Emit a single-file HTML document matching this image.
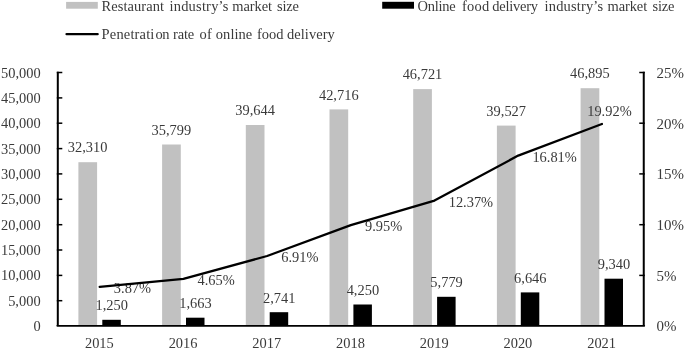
<!DOCTYPE html>
<html><head><meta charset="utf-8"><title>Chart</title>
<style>
html,body{margin:0;padding:0;background:#fff;}
svg{display:block;filter:grayscale(1) blur(0.4px)}
text{font-family:"Liberation Serif","Times New Roman",serif;font-size:14.0px;fill:#3a3a3a;}
</style></head><body>
<svg width="685" height="350" viewBox="0 0 685 350">
<rect width="685" height="350" fill="#fff"/>
<rect x="78.4" y="162.2" width="18.7" height="163.9" fill="#c1c1c1"/>
<rect x="102.3" y="319.8" width="18.5" height="6.3" fill="#000"/>
<rect x="162.1" y="144.5" width="18.7" height="181.6" fill="#c1c1c1"/>
<rect x="186.0" y="317.7" width="18.5" height="8.4" fill="#000"/>
<rect x="245.8" y="125.0" width="18.7" height="201.1" fill="#c1c1c1"/>
<rect x="269.7" y="312.2" width="18.5" height="13.9" fill="#000"/>
<rect x="329.5" y="109.4" width="18.7" height="216.7" fill="#c1c1c1"/>
<rect x="353.4" y="304.5" width="18.5" height="21.6" fill="#000"/>
<rect x="413.2" y="89.1" width="18.7" height="237.0" fill="#c1c1c1"/>
<rect x="437.1" y="296.8" width="18.5" height="29.3" fill="#000"/>
<rect x="496.9" y="125.6" width="18.7" height="200.5" fill="#c1c1c1"/>
<rect x="520.8" y="292.4" width="18.5" height="33.7" fill="#000"/>
<rect x="580.6" y="88.2" width="18.7" height="237.9" fill="#c1c1c1"/>
<rect x="604.5" y="278.7" width="18.5" height="47.4" fill="#000"/>
<text transform="translate(87.65 152.32) scale(1.0300 1)" text-anchor="middle">32,310</text>
<text transform="translate(111.75 310.16) scale(1.0300 1)" text-anchor="middle">1,250</text>
<text transform="translate(171.36 134.63) scale(1.0300 1)" text-anchor="middle">35,799</text>
<text transform="translate(195.46 308.07) scale(1.0300 1)" text-anchor="middle">1,663</text>
<text transform="translate(255.07 115.13) scale(1.0300 1)" text-anchor="middle">39,644</text>
<text transform="translate(279.17 302.60) scale(1.0300 1)" text-anchor="middle">2,741</text>
<text transform="translate(338.78 99.54) scale(1.0300 1)" text-anchor="middle">42,716</text>
<text transform="translate(362.88 294.94) scale(1.0300 1)" text-anchor="middle">4,250</text>
<text transform="translate(422.48 79.23) scale(1.0300 1)" text-anchor="middle">46,721</text>
<text transform="translate(446.58 287.19) scale(1.0300 1)" text-anchor="middle">5,779</text>
<text transform="translate(506.19 115.72) scale(1.0300 1)" text-anchor="middle">39,527</text>
<text transform="translate(530.29 282.79) scale(1.0300 1)" text-anchor="middle">6,646</text>
<text transform="translate(589.90 78.35) scale(1.0300 1)" text-anchor="middle">46,895</text>
<text transform="translate(614.00 269.13) scale(1.0300 1)" text-anchor="middle">9,340</text>
<text transform="translate(113.85 292.84) scale(1.0300 1)">3.87%</text>
<text transform="translate(197.56 284.93) scale(1.0300 1)">4.65%</text>
<text transform="translate(281.27 262.00) scale(1.0300 1)">6.91%</text>
<text transform="translate(364.98 231.17) scale(1.0300 1)">9.95%</text>
<text transform="translate(448.68 206.62) scale(1.0300 1)">12.37%</text>
<text transform="translate(532.39 161.58) scale(1.0300 1)">16.81%</text>
<text transform="translate(587.20 115.73) scale(1.0300 1)">19.92%</text>
<polyline fill="none" stroke="#000" stroke-width="2.3" stroke-linejoin="round" stroke-linecap="round" points="99.7,286.8 183.4,278.9 267.1,256.0 350.8,225.2 434.5,200.6 518.2,155.6 601.9,124.0"/>
<path d="M57.3 325.8 H644.25" fill="none" stroke="#000" stroke-width="1.8" stroke-linecap="round"/>
<path d="M57.8 71.75 V326.0 M643.75 71.75 V326.0" fill="none" stroke="#000" stroke-width="2"/>
<text transform="translate(40.60 331.20) scale(1.0300 1)" text-anchor="end">0</text>
<line x1="56.8" x2="62.3" y1="300.7" y2="300.7" stroke="#000" stroke-width="1.5"/>
<text transform="translate(40.60 305.84) scale(1.0300 1)" text-anchor="end">5,000</text>
<line x1="56.8" x2="62.3" y1="275.4" y2="275.4" stroke="#000" stroke-width="1.5"/>
<text transform="translate(40.60 280.48) scale(1.0300 1)" text-anchor="end">10,000</text>
<line x1="56.8" x2="62.3" y1="250.0" y2="250.0" stroke="#000" stroke-width="1.5"/>
<text transform="translate(40.60 255.12) scale(1.0300 1)" text-anchor="end">15,000</text>
<line x1="56.8" x2="62.3" y1="224.7" y2="224.7" stroke="#000" stroke-width="1.5"/>
<text transform="translate(40.60 229.76) scale(1.0300 1)" text-anchor="end">20,000</text>
<line x1="56.8" x2="62.3" y1="199.3" y2="199.3" stroke="#000" stroke-width="1.5"/>
<text transform="translate(40.60 204.40) scale(1.0300 1)" text-anchor="end">25,000</text>
<line x1="56.8" x2="62.3" y1="173.9" y2="173.9" stroke="#000" stroke-width="1.5"/>
<text transform="translate(40.60 179.04) scale(1.0300 1)" text-anchor="end">30,000</text>
<line x1="56.8" x2="62.3" y1="148.6" y2="148.6" stroke="#000" stroke-width="1.5"/>
<text transform="translate(40.60 153.68) scale(1.0300 1)" text-anchor="end">35,000</text>
<line x1="56.8" x2="62.3" y1="123.2" y2="123.2" stroke="#000" stroke-width="1.5"/>
<text transform="translate(40.60 128.32) scale(1.0300 1)" text-anchor="end">40,000</text>
<line x1="56.8" x2="62.3" y1="97.9" y2="97.9" stroke="#000" stroke-width="1.5"/>
<text transform="translate(40.60 102.96) scale(1.0300 1)" text-anchor="end">45,000</text>
<line x1="56.8" x2="62.3" y1="72.5" y2="72.5" stroke="#000" stroke-width="1.5"/>
<text transform="translate(40.60 77.60) scale(1.0300 1)" text-anchor="end">50,000</text>
<text transform="translate(656.60 331.40) scale(1.0700 1)">0%</text>
<line x1="644.75" x2="639.25" y1="275.4" y2="275.4" stroke="#000" stroke-width="1.5"/>
<text transform="translate(656.60 280.68) scale(1.0700 1)">5%</text>
<line x1="644.75" x2="639.25" y1="224.7" y2="224.7" stroke="#000" stroke-width="1.5"/>
<text transform="translate(656.60 229.96) scale(1.0700 1)">10%</text>
<line x1="644.75" x2="639.25" y1="173.9" y2="173.9" stroke="#000" stroke-width="1.5"/>
<text transform="translate(656.60 179.24) scale(1.0700 1)">15%</text>
<line x1="644.75" x2="639.25" y1="123.2" y2="123.2" stroke="#000" stroke-width="1.5"/>
<text transform="translate(656.60 128.52) scale(1.0700 1)">20%</text>
<line x1="644.75" x2="639.25" y1="72.5" y2="72.5" stroke="#000" stroke-width="1.5"/>
<text transform="translate(656.60 77.80) scale(1.0700 1)">25%</text>
<text transform="translate(99.35 347.95) scale(1.0300 1)" text-anchor="middle">2015</text>
<text transform="translate(183.06 347.95) scale(1.0300 1)" text-anchor="middle">2016</text>
<text transform="translate(266.77 347.95) scale(1.0300 1)" text-anchor="middle">2017</text>
<text transform="translate(350.48 347.95) scale(1.0300 1)" text-anchor="middle">2018</text>
<text transform="translate(434.18 347.95) scale(1.0300 1)" text-anchor="middle">2019</text>
<text transform="translate(517.89 347.95) scale(1.0300 1)" text-anchor="middle">2020</text>
<text transform="translate(601.60 347.95) scale(1.0300 1)" text-anchor="middle">2021</text>
<rect x="66.1" y="1.9" width="31.7" height="6.8" fill="#c1c1c1"/>
<rect x="382.2" y="1.8" width="31.8" height="6.9" fill="#000"/>
<line x1="66.6" x2="97.6" y1="34.1" y2="34.1" stroke="#000" stroke-width="2.4" stroke-linecap="round"/>
<text transform="translate(0 10.8) scale(1.035 1)" style="font-size:14.0px"><tspan x="98.16" letter-spacing="0.051">Restaurant</tspan> <tspan x="163.77" letter-spacing="0.196">industry’s</tspan> <tspan x="224.35" letter-spacing="-0.054">market</tspan> <tspan x="267.73" letter-spacing="-0.200">size</tspan></text>
<text transform="translate(0 38.8) scale(1.035 1)" style="font-size:14.0px"><tspan x="98.16" letter-spacing="0.160">Penetrati</tspan><tspan x="150.14" letter-spacing="-0.250">on</tspan> <tspan x="167.15" letter-spacing="-0.174">rate</tspan> <tspan x="192.75" letter-spacing="0.200">of</tspan> <tspan x="208.50" letter-spacing="0.060">online</tspan> <tspan x="248.31" letter-spacing="-0.017">food</tspan> <tspan x="277.29" letter-spacing="0.051">delivery</tspan></text>
<text transform="translate(0 10.8) scale(1.035 1)" style="font-size:14.0px"><tspan x="403.48" letter-spacing="-0.250">Online</tspan> <tspan x="446.38" letter-spacing="0.200">food</tspan> <tspan x="475.56" letter-spacing="-0.215">delivery</tspan> <tspan x="526.18" letter-spacing="0.158">industry’s</tspan> <tspan x="587.05" letter-spacing="-0.118">market</tspan> <tspan x="630.53" letter-spacing="-0.250">size</tspan></text>
</svg></body></html>
